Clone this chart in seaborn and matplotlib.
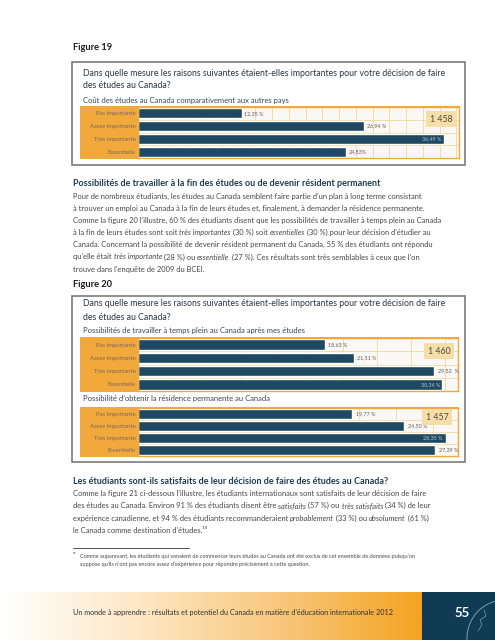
"""
Page 55 recreation: Figures 19 and 20 (importance of reasons for studying in Canada).
"""
import numpy as np
import pandas as pd

import matplotlib
matplotlib.use("Agg")
import matplotlib.pyplot as plt
import seaborn as sns
from matplotlib.patches import Rectangle, Circle
from matplotlib.colors import LinearSegmentedColormap

sns.set_theme(style="white")
plt.rcParams['font.family'] = ['Lato', 'DejaVu Sans']

W, H = 495, 640

# ── Data ──
CATEGORIES = ['Pas importante', 'Assez importante', 'Très importante', 'Essentielle']

FIG19_COST = [12.35, 26.94, 36.49, 24.83]
FIG19_COST_LABELS = ['12,35 %', '26,94 %', '36,49 %', '24,83%']
FIG19_N = '1 458'

FIG20_WORK = [18.63, 21.51, 29.52, 30.34]
FIG20_WORK_LABELS = ['18,63 %', '21,51 %', '29,52  %', '30,34 %']
FIG20_WORK_N = '1 460'

FIG20_PR = [19.77, 24.50, 28.35, 27.39]
FIG20_PR_LABELS = ['19,77 %', '24,50 %', '28,35 %', '27,39 %']
FIG20_PR_N = '1 457'

QUESTION = ['Dans quelle mesure les raisons suivantes étaient-elles importantes pour votre décision de faire',
            'des études au Canada?']

PARA1 = [
    "Pour de nombreux étudiants, les études au Canada semblent faire partie d’un plan à long terme consistant",
    "à trouver un emploi au Canada à la fin de leurs études et, finalement, à demander la résidence permanente.",
    "Comme la figure 20 l’illustre, 60 % des étudiants disent que les possibilités de travailler à temps plein au Canada",
    "à la fin de leurs études sont soit *très importantes* (30 %) soit *essentielles* (30 %) pour leur décision d’étudier au",
    "Canada. Concernant la possibilité de devenir résident permanent du Canada, 55 % des étudiants ont répondu",
    "qu’elle était *très importante* (28 %) ou *essentielle* (27 %). Ces résultats sont très semblables à ceux que l’on",
    "trouve dans l’enquête de 2009 du BCEI.",
]
PARA2 = [
    "Comme la figure 21 ci-dessous l’illustre, les étudiants internationaux sont satisfaits de leur décision de faire",
    "des études au Canada. Environ 91 % des étudiants disent être *satisfaits* (57 %) ou *très satisfaits* (34 %) de leur",
    "expérience canadienne, et 94 % des étudiants recommanderaient *probablement* (33 %) ou *absolument* (61 %)",
    "le Canada comme destination d’études.¹⁵",
]
FOOTNOTE = [
    "Comme auparavant, les étudiants qui venaient de commencer leurs études au Canada ont été exclus de cet ensemble de données puisqu’on",
    "suppose qu’ils n’ont pas encore assez d’expérience pour répondre précisément à cette question.",
]

BAR = '#1f4963'
ORANGE = '#f1a93c'
GRID = '#f4d69c'
PLOTBG = '#faf8f4'
HEAD = '#1d3c52'
TXT = '#474747'

fig = plt.figure(figsize=(W / 100, H / 100), dpi=100, facecolor='white')
renderer = fig.canvas.get_renderer()


def fy(y):
    return 1 - y / H


def rect(x0, y0, x1, y1, **kw):
    fig.patches.append(Rectangle((x0 / W, fy(y1)), (x1 - x0) / W, (y1 - y0) / H,
                                 transform=fig.transFigure, **kw))


def seg_width(s, **kw):
    t = fig.text(0, 0, 'X' + s + 'X', **kw)
    w = t.get_window_extent(renderer).width
    t.remove()
    t = fig.text(0, 0, 'XX', **kw)
    w2 = t.get_window_extent(renderer).width
    t.remove()
    return w - w2


def rich_line(x, y, line, size, color):
    # y is the visual centre of the line; all segments share one baseline
    base = y + 2.0
    parts = line.split('*')
    for k, p in enumerate(parts):
        if not p:
            continue
        kw = dict(fontsize=size, color=color, style='italic' if k % 2 else 'normal')
        fig.text(x / W, fy(base), p, va='baseline', ha='left', **kw)
        x += seg_width(p, **kw)


def chart(box, values, labels, n_text, n_xy, xmax, step, cat_size=4.3):
    x0, y0, x1, y1 = box
    rect(80, y0 - 1.2, x1 + 1.2, y1 + 1.2, color=ORANGE, zorder=-1, lw=0)
    ax = fig.add_axes([x0 / W, fy(y1), (x1 - x0) / W, (y1 - y0) / H])
    df = pd.DataFrame({'cat': CATEGORIES, 'val': values})
    sns.barplot(data=df, x='val', y='cat', orient='h', color=BAR, saturation=1,
                width=0.8, ax=ax)
    ax.set_facecolor(PLOTBG)
    ax.set_xlim(0, xmax)
    ax.set_ylim(len(values) - 0.5, -0.5)
    ax.set_xticks(np.arange(step, xmax, step))
    ax.set_yticks(np.arange(-0.5, len(values), 0.5), minor=True)
    ax.grid(axis='x', which='major', color=GRID, lw=0.6)
    ax.grid(axis='y', which='minor', color=GRID, lw=0.6)
    ax.set_axisbelow(True)
    ax.tick_params(axis='x', length=0, labelbottom=False)
    ax.tick_params(axis='y', which='both', length=0, pad=1.6, labelsize=cat_size,
                   labelcolor='#7a6660')
    ax.set_xlabel('')
    ax.set_ylabel('')
    for sp in ax.spines.values():
        sp.set_color(ORANGE)
        sp.set_linewidth(1.0)
    vmax = max(values)
    for i, (v, lab) in enumerate(zip(values, labels)):
        if v == vmax:
            ax.text(v - 0.25, i, lab, ha='right', va='center', fontsize=3.9, color='#b9c8d3')
        else:
            ax.text(v + 0.35, i, lab, ha='left', va='center', fontsize=3.9, color='#5b5b5b')
    fig.text(n_xy[0] / W, fy(n_xy[1]), n_text, ha='center', va='center', fontsize=6.3,
             color='#4a4a4a',
             bbox=dict(boxstyle='square,pad=0.45', fc='#f6dea6', ec='none'))
    return ax


# ── Figure 19 ──
fig.text(73 / W, fy(48), 'Figure 19', fontsize=6.7, weight='bold', color='#1a1a1a',
         va='center')
rect(72, 62, 465, 165, fc='white', ec='#707070', lw=1.1, zorder=-2)
fig.text(83 / W, fy(73), QUESTION[0], fontsize=6.3, color='#2a3644', va='center')
fig.text(83 / W, fy(86), QUESTION[1], fontsize=6.3, color='#2a3644', va='center')
fig.text(83 / W, fy(100), 'Coût des études au Canada comparativement aux autres pays',
         fontsize=5.5, color='#3b4653', va='center')
chart((138, 107, 459, 158), FIG19_COST, FIG19_COST_LABELS, FIG19_N, (441, 119), 38.3, 2)

# ── Text section 1 ──
fig.text(73 / W, fy(184), 'Possibilités de travailler à la fin des études ou de devenir résident permanent',
         fontsize=6.5, weight='bold', color=HEAD, va='center')
for k, line in enumerate(PARA1):
    rich_line(73, 197 + k * 12.1, line, 5.45, TXT)

# ── Figure 20 ──
fig.text(73 / W, fy(284.5), 'Figure 20', fontsize=6.7, weight='bold', color='#1a1a1a',
         va='center')
rect(72, 296, 465, 462, fc='white', ec='#707070', lw=1.1, zorder=-2)
fig.text(83 / W, fy(304), QUESTION[0], fontsize=6.3, color='#2a3644', va='center')
fig.text(83 / W, fy(317), QUESTION[1], fontsize=6.3, color='#2a3644', va='center')
fig.text(83 / W, fy(331), 'Possibilités de travailler à temps plein au Canada après mes études',
         fontsize=5.5, color='#3b4653', va='center')
chart((138, 338, 458, 391), FIG20_WORK, FIG20_WORK_LABELS, FIG20_WORK_N, (439, 351), 31.9, 3.4)
fig.text(83 / W, fy(399), 'Possibilité d’obtenir la résidence permanente au Canada',
         fontsize=5.5, color='#3b4653', va='center')
chart((138, 408, 458, 456), FIG20_PR, FIG20_PR_LABELS, FIG20_PR_N, (437, 417), 29.5, 3.4)

# ── Text section 2 ──
fig.text(73 / W, fy(481), 'Les étudiants sont-ils satisfaits de leur décision de faire des études au Canada?',
         fontsize=6.5, weight='bold', color=HEAD, va='center')
for k, line in enumerate(PARA2):
    rich_line(73, 494 + k * 12.3, line, 5.45, TXT)

fig.add_artist(plt.Line2D([73 / W, 189 / W], [fy(548), fy(548)], color='#333333', lw=0.6))
fig.text(73 / W, fy(555.5), '¹⁵', fontsize=3.8, color=TXT, va='center')
fig.text(80 / W, fy(556), FOOTNOTE[0], fontsize=4.0, color=TXT, va='center')
fig.text(80 / W, fy(564), FOOTNOTE[1], fontsize=4.0, color=TXT, va='center')

# ── Footer band ──
cmap = LinearSegmentedColormap.from_list('band', ['#ffffff', '#fde7c4', '#f8c77c', '#f4a322'])
bax = fig.add_axes([0, 0, 422 / W, 48 / H])
bax.imshow(np.linspace(0, 1, 256)[None, :], aspect='auto', cmap=cmap, extent=(0, 1, 0, 1))
bax.set_axis_off()
nax = fig.add_axes([422 / W, 0, 73 / W, 48 / H])
nax.set_facecolor('#103b55')
nax.set_xlim(422, 495)
nax.set_ylim(640, 592)
nax.set_xticks([])
nax.set_yticks([])
for sp in nax.spines.values():
    sp.set_visible(False)
nax.add_patch(Circle((505, 638), 38, fill=False, ec='#7f9bb0', lw=0.7))
nax.plot([478, 482, 480, 486, 484], [631, 625, 620, 616, 610], color='#7f9bb0', lw=0.5)
nax.text(462, 613, '55', ha='center', va='center', fontsize=9.5, weight='bold', color='white')
fig.text(73 / W, fy(613), 'Un monde à apprendre : résultats et potentiel du Canada en matière '
         'd’éducation internationale 2012', fontsize=5.2, color='#333333', va='center')

fig.savefig('out.png', dpi=100, facecolor='white')
plt.close(fig)
